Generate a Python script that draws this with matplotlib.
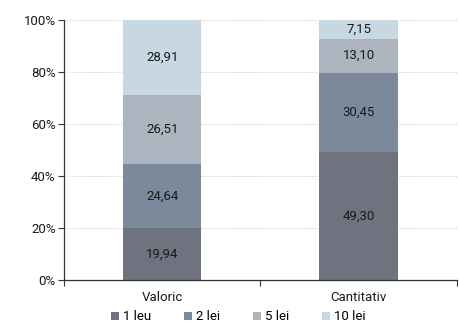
import numpy as np
import matplotlib.pyplot as plt

plt.rcParams['font.family'] = ['Roboto', 'DejaVu Sans']

categories = ['Valoric', 'Cantitativ']
series = ['1 leu', '2 lei', '5 lei', '10 lei']
values = {
    '1 leu': [19.94, 49.30],
    '2 lei': [24.64, 30.45],
    '5 lei': [26.51, 13.10],
    '10 lei': [28.91, 7.15],
}
colors = ['#6e737f', '#7b899b', '#abb4bf', '#c8d8e2']

fs = 9.5
fig = plt.figure(figsize=(4.6, 3.24), dpi=100)
ax = fig.add_axes([0.139, 0.136, 0.854, 0.802])

x = np.arange(len(categories))
bottom = np.zeros(len(categories))
for name, c in zip(series, colors):
    v = np.array(values[name])
    ax.bar(x, v, 0.4, bottom=bottom, color=c, label=name, zorder=2)
    for xi, bi, vi in zip(x, bottom, v):
        ax.text(xi, bi + vi / 2, f'{vi:.2f}'.replace('.', ','),
                ha='center', va='center', fontsize=fs, color='#1a1a1a', zorder=3)
    bottom += v

ax.set_xlim(-0.5, 1.5)
ax.set_ylim(0, 100)
ax.set_yticks(np.arange(0, 101, 20))
ax.set_yticklabels([f'{t}%' for t in range(0, 101, 20)])
ax.set_xticks([-0.5, 0.5, 1.5])
ax.set_xticklabels([])
ax.set_xticks(x, minor=True)
ax.set_xticklabels(categories, minor=True)
ax.tick_params(axis='x', which='minor', length=0, pad=8)
ax.tick_params(axis='x', which='major', length=4, direction='out', color='#333333')
ax.tick_params(axis='y', length=4, color='#333333', pad=2)
ax.tick_params(which='both', labelsize=fs, labelcolor='#1a1a1a')

for s in ['top', 'right']:
    ax.spines[s].set_visible(False)
for s in ['left', 'bottom']:
    ax.spines[s].set_color('#333333')
    ax.spines[s].set_linewidth(0.9)

ax.yaxis.grid(True, linestyle=':', color='#c8c8c8', linewidth=0.7, zorder=0)
ax.set_axisbelow(True)

fig.legend(loc='center', bbox_to_anchor=(0.518, 0.022), ncol=4, frameon=False,
           fontsize=fs, handlelength=0.6, handleheight=0.6, handletextpad=0.3,
           columnspacing=2.5, borderpad=0)

fig.savefig('out.png', dpi=100)
